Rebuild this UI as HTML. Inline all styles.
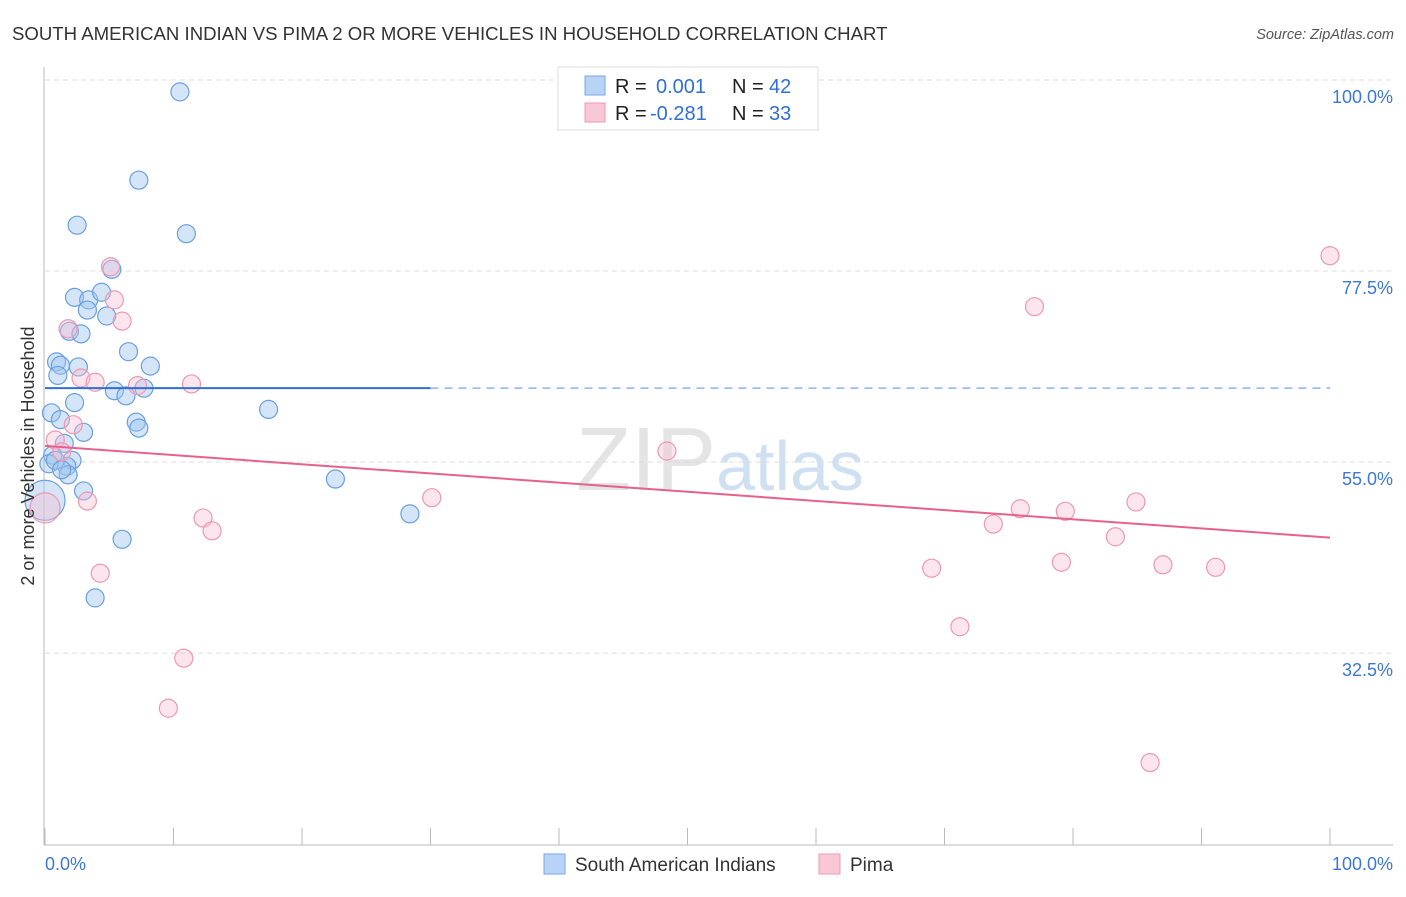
<!DOCTYPE html>
<html><head><meta charset="utf-8"><style>
body{margin:0;background:#fff;font-family:"Liberation Sans",sans-serif;}
svg text{font-family:"Liberation Sans",sans-serif;}
</style></head><body>
<svg id="chart" width="1406" height="892" viewBox="0 0 1406 892">
<text x="12" y="40" font-size="18.6" fill="#333">SOUTH AMERICAN INDIAN VS PIMA 2 OR MORE VEHICLES IN HOUSEHOLD CORRELATION CHART</text>
<text x="1394" y="39" font-size="14.5" fill="#555" text-anchor="end" font-style="italic">Source: ZipAtlas.com</text>
<text x="720" y="490" font-size="90" text-anchor="middle" fill="#e4e4e4" font-family="Liberation Serif"><tspan>ZIP</tspan><tspan fill="#cfe0f3" font-family="Liberation Sans" font-size="70">atlas</tspan></text>
<g id="grid"></g>
<g id="axes"></g>
<g id="marks"></g>
<text transform="translate(34,456) rotate(-90)" font-size="18" fill="#333" text-anchor="middle">2 or more Vehicles in Household</text>
<g>
<rect x="558" y="67" width="260" height="63" fill="#fff" stroke="#ddd"/>
<rect x="585" y="76" width="20" height="19" fill="#b8d3f5" stroke="#7aaae8"/>
<rect x="585" y="103" width="20" height="19" fill="#f9c8d7" stroke="#ee9ab3"/>
<text x="615" y="93" font-size="20" fill="#222">R = </text><text x="656" y="93" font-size="20" fill="#2f6fd6">0.001</text>
<text x="732" y="93" font-size="20" fill="#222">N = </text><text x="769" y="93" font-size="20" fill="#2f6fd6">42</text>
<text x="615" y="120" font-size="20" fill="#222">R = </text><text x="650" y="120" font-size="20" fill="#2f6fd6">-0.281</text>
<text x="732" y="120" font-size="20" fill="#222">N = </text><text x="769" y="120" font-size="20" fill="#2f6fd6">33</text>
</g>
<g>
<rect x="544" y="854" width="21" height="20" fill="#b8d3f5" stroke="#7aaae8"/>
<text x="575" y="871" font-size="19" fill="#333">South American Indians</text>
<rect x="819" y="854" width="21" height="20" fill="#f9c8d7" stroke="#ee9ab3"/>
<text x="850" y="871" font-size="19" fill="#333">Pima</text>
</g>
</svg>
<script>
const blueX=[10.5,7.3,2.5,11.0,5.2,2.3,3.4,4.4,3.3,4.8,1.9,2.8,0.9,1.2,6.5,8.2,2.6,1.0,5.4,6.3,7.7,17.4,2.3,0.5,1.2,7.1,7.3,3.0,1.5,0.6,2.1,0.3,1.7,1.8,22.6,3.0,0,28.4,6.0,3.9,0.8,1.3];
const blueY=[98.6,88.2,82.9,81.9,77.7,74.4,74.1,75.0,72.9,72.2,70.4,70.1,66.8,66.4,68.0,66.3,66.2,65.2,63.4,62.8,63.7,61.2,62.0,60.8,60.0,59.7,59.0,58.5,57.2,55.8,55.2,54.8,54.5,53.5,53.0,51.6,50.5,48.9,45.9,39.0,55.2,54.1];
const blueR=[9,9,9,9,9,9,9,9,9,9,9,9,9,9,9,9,9,9,9,9,9,9,9,9,9,9,9,9,9,9,9,9,9,9,9,9,20,9,9,9,9,9];
const pinkX=[100,5.1,77.0,5.4,6.0,1.8,2.8,3.9,7.2,11.4,0.8,2.2,1.3,48.4,30.1,3.3,84.9,0,75.9,79.4,12.3,73.8,13.0,83.3,4.3,69.0,79.1,87.0,91.1,71.2,10.8,9.6,86.0];
const pinkY=[79.3,78.0,73.3,74.1,71.6,70.7,64.9,64.4,64.0,64.2,57.6,59.4,56.2,56.3,50.8,50.4,50.3,49.6,49.5,49.2,48.4,47.7,46.9,46.2,41.9,42.5,43.2,42.9,42.6,35.6,31.9,26.0,19.6];
const pinkR=[9,9,9,9,9,9,9,9,9,9,9,9,9,9,9,9,9,15,9,9,9,9,9,9,9,9,9,9,9,9,9,9,9];
const yTicks=[100,77.5,55,32.5];
const yTickLabels=["100.0%","77.5%","55.0%","32.5%"];
const blueTrend=[63.7,63.7];
const pinkTrend=[56.9,46.1];
const NS="http://www.w3.org/2000/svg";
const sx=v=>45+v*12.85, sy=v=>80+(100-v)*8.49;
function mk(tag,attrs,parent){const e=document.createElementNS(NS,tag);for(const k in attrs)e.setAttribute(k,attrs[k]);document.getElementById(parent).appendChild(e);return e;}
yTicks.forEach((t,i)=>{
 const g=mk('line',{x1:45,x2:1393,y1:sy(t),y2:sy(t),stroke:'#ddd','stroke-dasharray':'5,4'},'grid');
 
 
 const l=mk('text',{x:1393,y:sy(t)+23,'font-size':18,fill:'#3b78d8','text-anchor':'end'},'axes');
 l.textContent=yTickLabels[i];
 
 
});
mk('line',{x1:44,x2:44,y1:67,y2:845,stroke:'#bbb'},'axes');
mk('line',{x1:44,x2:1393,y1:845,y2:845,stroke:'#bbb'},'axes');
for(let i=0;i<=10;i++){const t=mk('line',{x1:sx(i*10),x2:sx(i*10),y1:828,y2:845,stroke:'#bbb'},'axes');
 
 }
const x0=mk('text',{x:45,y:870,'font-size':18,fill:'#3b78d8'},'axes');x0.textContent='0.0%';


const x1=mk('text',{x:1393,y:870,'font-size':18,fill:'#3b78d8','text-anchor':'end'},'axes');x1.textContent='100.0%';


blueX.forEach((v,i)=>{const c=mk('circle',{cx:sx(v),cy:sy(blueY[i]),r:blueR[i],fill:'rgba(160,197,240,0.45)',stroke:'#6a9fe0','stroke-width':1.2},'marks');
 
 });
pinkX.forEach((v,i)=>{const c=mk('circle',{cx:sx(v),cy:sy(pinkY[i]),r:pinkR[i],fill:'rgba(248,190,208,0.4)',stroke:'#ee98b2','stroke-width':1.2},'marks');
 
 });
const bt=mk('line',{x1:sx(0),x2:sx(30),y1:sy(blueTrend[0]),y2:sy(blueTrend[0]+(blueTrend[1]-blueTrend[0])*0.3),stroke:'#2f6fd6','stroke-width':2},'marks');


const bd=mk('line',{x1:sx(30),x2:sx(100),y1:sy(blueTrend[0]+(blueTrend[1]-blueTrend[0])*0.3),y2:sy(blueTrend[1]),stroke:'#8fb3e6','stroke-width':1.5,'stroke-dasharray':'8,6'},'marks');


const pt=mk('line',{x1:sx(0),x2:sx(100),y1:sy(pinkTrend[0]),y2:sy(pinkTrend[1]),stroke:'#e4628c','stroke-width':2},'marks');


</script>
</body></html>
